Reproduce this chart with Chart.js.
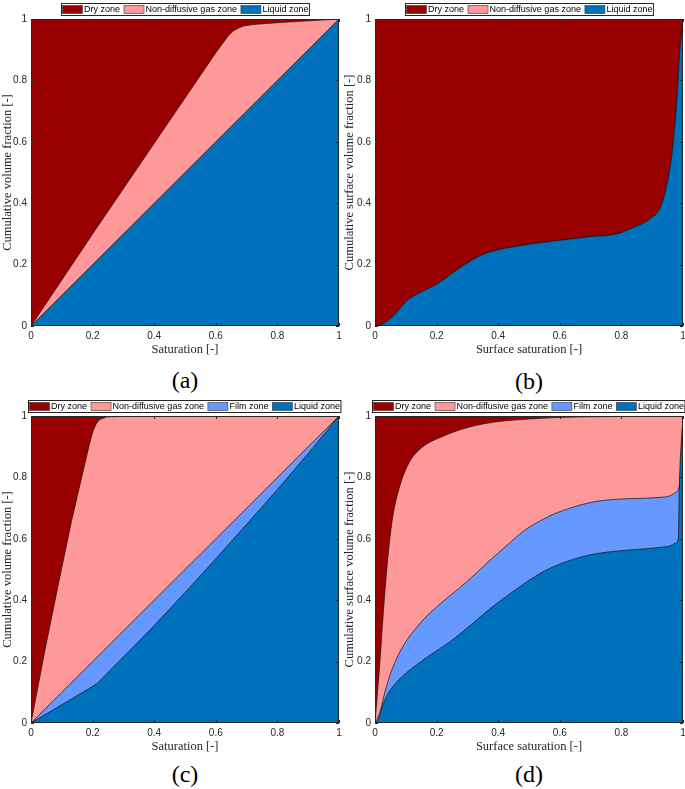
<!DOCTYPE html>
<html>
<head>
<meta charset="utf-8">
<script src="https://cdn.jsdelivr.net/npm/chart.js@4.4.1/dist/chart.umd.min.js"></script>
<style>
  body { margin: 0; background: #fff; width: 685px; height: 789px; position: relative; overflow: hidden; }
  canvas { position: absolute; }
  .cap { position: absolute; width: 100px; text-align: center; font: 24px "Liberation Serif", "Times New Roman", serif; line-height: 24px; color: #000; }
</style>
</head>
<body>
<canvas id="chartA" width="342" height="357" style="left:0;top:0"></canvas>
<canvas id="chartB" width="343" height="357" style="left:342px;top:0"></canvas>
<canvas id="chartC" width="342" height="357" style="left:0;top:397px"></canvas>
<canvas id="chartD" width="343" height="357" style="left:342px;top:397px"></canvas>
<div class="cap" style="left:135px;top:368px">(a)</div>
<div class="cap" style="left:479px;top:369px">(b)</div>
<div class="cap" style="left:135px;top:762px">(c)</div>
<div class="cap" style="left:479px;top:762px">(d)</div>
<script>
// axis ticks shared by every panel
const tickValues = [0, 0.2, 0.4, 0.6, 0.8, 1];
const tickLabels = ['0', '0.2', '0.4', '0.6', '0.8', '1'];

// top of the dry zone is always 1
const dryX = [0, 1];
const dryY = [1, 1];

// (a) cumulative volume fraction vs saturation
const aGasX = [0, 0.2, 0.4, 0.6, 0.64, 0.655, 0.67, 0.69, 0.72, 0.8, 0.9, 1];
const aGasY = [0, 0.3, 0.595, 0.89, 0.945, 0.96, 0.969, 0.977, 0.982, 0.988, 0.994, 1];
const aLiqX = [0, 0.2, 0.4, 0.6, 0.8, 1];
const aLiqY = [0, 0.2, 0.4, 0.6, 0.8, 1];

// (b) cumulative surface volume fraction vs surface saturation (gas zone has no width)
const bLiqX = [0, 0.027, 0.06, 0.103, 0.146, 0.2, 0.276, 0.341, 0.395, 0.492, 0.59, 0.698, 0.785, 0.839, 0.893, 0.931, 0.958, 0.969, 0.98, 0.99, 1];
const bLiqY = [0, 0.008, 0.033, 0.082, 0.109, 0.136, 0.19, 0.229, 0.247, 0.265, 0.278, 0.291, 0.3, 0.321, 0.349, 0.398, 0.517, 0.605, 0.735, 0.9, 1];
const bGasX = bLiqX;
const bGasY = bLiqY;

// (c) with film zone
const cGasX = [0, 0.045, 0.089, 0.132, 0.175, 0.19, 0.202, 0.212, 0.222, 0.245, 0.3, 1];
const cGasY = [0, 0.236, 0.453, 0.66, 0.845, 0.91, 0.953, 0.975, 0.988, 0.997, 0.999, 1];
const cFilmX = [0, 0.5, 1];
const cFilmY = [0, 0.5, 1];
const cLiqX = [0, 0.213, 0.3, 0.397, 0.5, 0.6, 0.7, 0.798, 0.9, 1];
const cLiqY = [0, 0.127, 0.215, 0.314, 0.425, 0.535, 0.647, 0.758, 0.878, 1];

// (d) surface, with film zone
const dGasX = [0, 0.016, 0.027, 0.04, 0.055, 0.076, 0.108, 0.152, 0.216, 0.303, 0.373, 0.43, 0.59, 0.75, 1];
const dGasY = [0, 0.2, 0.36, 0.52, 0.655, 0.756, 0.843, 0.897, 0.932, 0.963, 0.978, 0.985, 0.995, 0.998, 1];
const dFilmX = [0, 0.016, 0.032, 0.05, 0.075, 0.1, 0.13, 0.16, 0.2, 0.25, 0.3, 0.373, 0.43, 0.482, 0.53, 0.579, 0.64, 0.698, 0.75, 0.806, 0.87, 0.925, 0.958, 0.974, 0.988, 1];
const dFilmY = [0, 0.035, 0.1, 0.16, 0.22, 0.265, 0.305, 0.34, 0.378, 0.42, 0.462, 0.53, 0.58, 0.625, 0.655, 0.68, 0.702, 0.718, 0.726, 0.73, 0.732, 0.735, 0.74, 0.75, 0.772, 1];
const dLiqX = [0, 0.011, 0.027, 0.045, 0.07, 0.1, 0.14, 0.18, 0.24, 0.3, 0.373, 0.43, 0.49, 0.55, 0.6, 0.65, 0.7, 0.75, 0.806, 0.87, 0.925, 0.958, 0.974, 0.985, 0.988, 1];
const dLiqY = [0, 0.012, 0.063, 0.1, 0.133, 0.162, 0.193, 0.222, 0.262, 0.31, 0.372, 0.415, 0.458, 0.495, 0.518, 0.535, 0.548, 0.556, 0.562, 0.567, 0.572, 0.577, 0.585, 0.603, 0.765, 1];

const zoneNames = { dry: 'Dry zone', gas: 'Non-diffusive gas zone', film: 'Film zone', liquid: 'Liquid zone' };
const zoneColors = { dry: '#990000', gas: '#ff9999', film: '#6699ff', liquid: '#0072bd' };

const sansFont = '"Liberation Sans", Arial, sans-serif';
const serifFont = '"Liberation Serif", "Times New Roman", serif';

function points(xs, ys) {
    return xs.map((x, i) => ({ x: x, y: ys[i] }));
}

// box, inward ticks on all sides and the framed legend
const framePlugin = {
    id: 'framePlugin',
    afterDatasetsDraw(chart) {
        const { ctx, chartArea: a, scales: { x, y } } = chart;
        ctx.save();
        ctx.strokeStyle = '#262626';
        ctx.lineWidth = 1;
        ctx.beginPath();
        tickValues.forEach(v => {
            const px = Math.round(x.getPixelForValue(v)) + 0.5;
            const py = Math.round(y.getPixelForValue(v)) + 0.5;
            ctx.moveTo(px, a.bottom); ctx.lineTo(px, a.bottom - 3);
            ctx.moveTo(px, a.top); ctx.lineTo(px, a.top + 3);
            ctx.moveTo(a.left, py); ctx.lineTo(a.left + 3, py);
            ctx.moveTo(a.right, py); ctx.lineTo(a.right - 3, py);
        });
        ctx.stroke();
        ctx.strokeRect(a.left + 0.5, a.top + 0.5, a.width - 1, a.height - 1);
        ctx.restore();
    },
    afterDraw(chart) {
        const { ctx, chartArea: a } = chart;
        const items = chart.data.datasets.slice().reverse();
        ctx.save();
        ctx.font = '9px ' + sansFont;
        const widths = items.map(d => ctx.measureText(d.label).width);
        const total = 3 + items.length * 21.5 + widths.reduce((s, w) => s + w, 0) + (items.length - 1) * 4;
        const left = Math.round((a.left + a.right) / 2 - total / 2);
        const top = a.top - 16;
        ctx.fillStyle = '#fff';
        ctx.fillRect(left, top, total, 12);
        ctx.strokeStyle = '#262626';
        ctx.lineWidth = 1;
        ctx.strokeRect(left + 0.5, top + 0.5, total - 1, 12);
        let px = left + 1.5;
        items.forEach((d, i) => {
            ctx.fillStyle = d.backgroundColor;
            ctx.fillRect(px, top + 2.5, 20, 8);
            ctx.strokeStyle = '#333';
            ctx.lineWidth = 0.6;
            ctx.strokeRect(px, top + 2.5, 20, 8);
            ctx.fillStyle = '#000';
            ctx.textBaseline = 'middle';
            ctx.fillText(d.label, px + 21.5, top + 7);
            px += 21.5 + widths[i] + 4;
        });
        ctx.restore();
    }
};

function makeChart(id, cfg) {
    // zones listed bottom to top; dataset 0 is drawn last, so it stays on top
    const datasets = cfg.zones.map(z => ({
        label: zoneNames[z.key],
        data: points(z.xs, z.ys),
        backgroundColor: zoneColors[z.key],
        borderColor: '#111',
        borderWidth: z.key === 'dry' ? 0 : 0.7,
        fill: 'origin',
        pointRadius: 0,
        tension: 0,
        cubicInterpolationMode: cfg.smooth ? 'monotone' : 'default'
    }));

    return new Chart(document.getElementById(id), {
        type: 'line',
        data: { datasets: datasets },
        options: {
            responsive: false,
            animation: false,
            events: [],
            layout: { padding: { top: 19, right: cfg.padRight, bottom: 0, left: 0 } },
            plugins: { legend: { display: false }, tooltip: { enabled: false } },
            scales: {
                x: {
                    type: 'linear', min: 0, max: 1,
                    afterBuildTicks: s => { s.ticks = tickValues.map(v => ({ value: v })); },
                    afterFit: s => { s.height = 31; s.paddingLeft = 0; s.paddingRight = 0; },
                    grid: { display: false, drawTicks: false },
                    border: { display: false },
                    ticks: {
                        callback: (v, i) => tickLabels[i],
                        padding: 4, maxRotation: 0, autoSkip: false,
                        color: '#262626', font: { family: sansFont, size: 10 }
                    },
                    title: { display: true, text: cfg.xTitle, padding: 0, color: '#262626', font: { family: serifFont, size: 12.5 } }
                },
                y: {
                    type: 'linear', min: 0, max: 1,
                    afterBuildTicks: s => { s.ticks = tickValues.map(v => ({ value: v })); },
                    afterFit: s => { s.width = cfg.areaLeft; s.paddingTop = 0; s.paddingBottom = 0; },
                    grid: { display: false, drawTicks: false },
                    border: { display: false },
                    ticks: {
                        callback: (v, i) => tickLabels[i],
                        padding: 4, autoSkip: false,
                        color: '#262626', font: { family: sansFont, size: 10 }
                    },
                    title: { display: true, text: cfg.yTitle, padding: 0, color: '#262626', font: { family: serifFont, size: 12.5 } }
                }
            }
        },
        plugins: [framePlugin]
    });
}

makeChart('chartA', {
    areaLeft: 31, padRight: 3, smooth: false,
    xTitle: 'Saturation [-]', yTitle: 'Cumulative volume fraction [-]',
    zones: [
        { key: 'liquid', xs: aLiqX, ys: aLiqY },
        { key: 'gas', xs: aGasX, ys: aGasY },
        { key: 'dry', xs: dryX, ys: dryY }
    ]
});

makeChart('chartB', {
    areaLeft: 33, padRight: 2, smooth: true,
    xTitle: 'Surface saturation [-]', yTitle: 'Cumulative surface volume fraction [-]',
    zones: [
        { key: 'liquid', xs: bLiqX, ys: bLiqY },
        { key: 'gas', xs: bGasX, ys: bGasY },
        { key: 'dry', xs: dryX, ys: dryY }
    ]
});

makeChart('chartC', {
    areaLeft: 31, padRight: 3, smooth: false,
    xTitle: 'Saturation [-]', yTitle: 'Cumulative volume fraction [-]',
    zones: [
        { key: 'liquid', xs: cLiqX, ys: cLiqY },
        { key: 'film', xs: cFilmX, ys: cFilmY },
        { key: 'gas', xs: cGasX, ys: cGasY },
        { key: 'dry', xs: dryX, ys: dryY }
    ]
});

makeChart('chartD', {
    areaLeft: 33, padRight: 2, smooth: true,
    xTitle: 'Surface saturation [-]', yTitle: 'Cumulative surface volume fraction [-]',
    zones: [
        { key: 'liquid', xs: dLiqX, ys: dLiqY },
        { key: 'film', xs: dFilmX, ys: dFilmY },
        { key: 'gas', xs: dGasX, ys: dGasY },
        { key: 'dry', xs: dryX, ys: dryY }
    ]
});
</script>
</body>
</html>
